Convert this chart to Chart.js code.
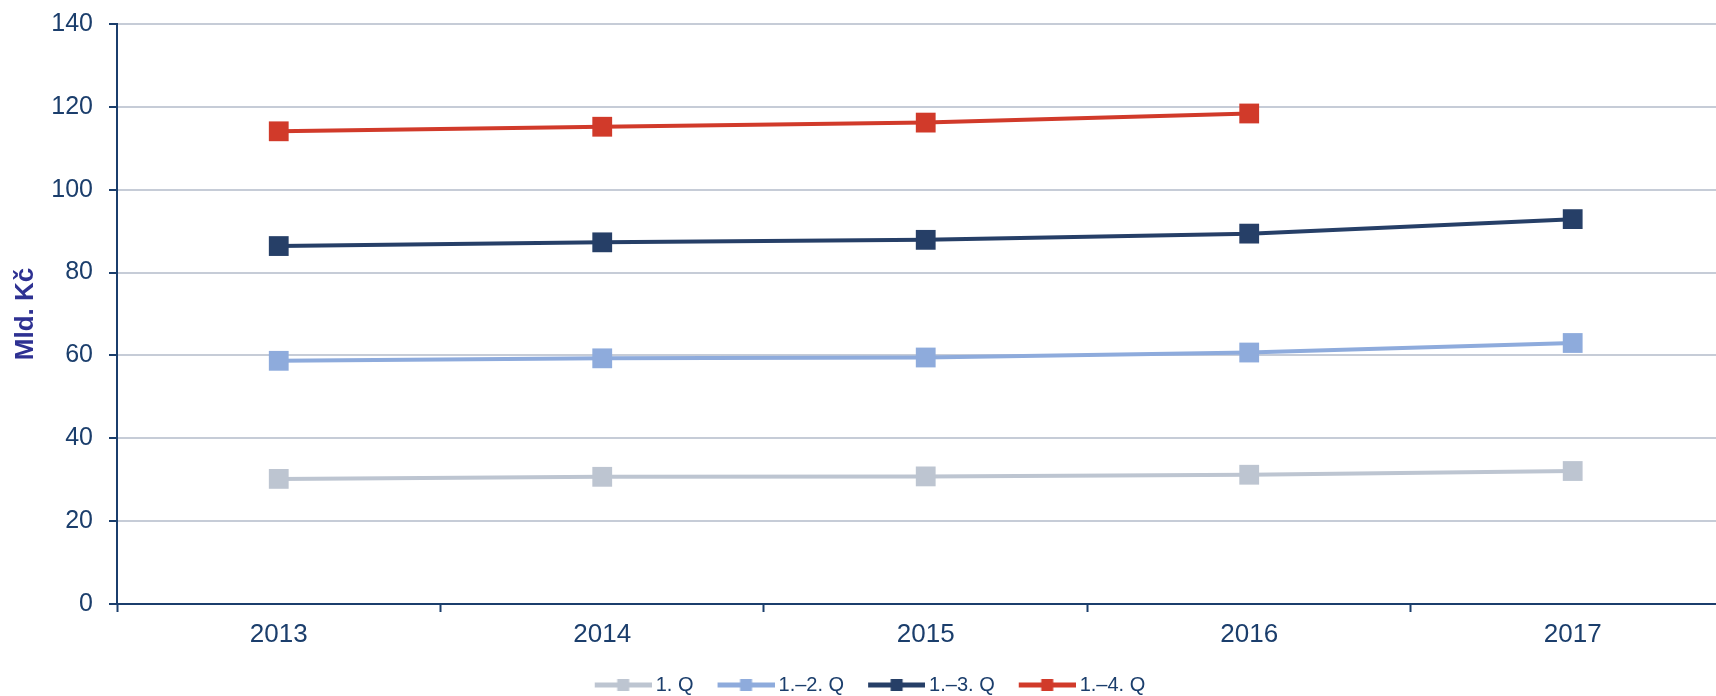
<!DOCTYPE html>
<html>
<head>
<meta charset="utf-8">
<script src="https://cdn.jsdelivr.net/npm/chart.js@4/dist/chart.umd.min.js"></script>
<style>
  html, body { margin: 0; padding: 0; background: #fff; }
  #wrap { width: 1716px; height: 696px; position: relative; }
</style>
</head>
<body>
<div id="wrap"><canvas id="graf"></canvas></div>
<script>
const roky = ["2013", "2014", "2015", "2016", "2017"];
const q1 = [30.2, 30.7, 30.8, 31.2, 32.1];
const q12 = [58.7, 59.3, 59.5, 60.7, 63.0];
const q13 = [86.4, 87.3, 87.9, 89.4, 92.9];
const q14 = [114.1, 115.2, 116.2, 118.4];
const nazvy = ["1. Q", "1.\u20132. Q", "1.\u20133. Q", "1.\u20134. Q"];
const barvy = ["#bdc5d1", "#8eabdc", "#263f67", "#d13a2a"];
const yTicky = [0, 20, 40, 60, 80, 100, 120, 140];

const osaBarva = "#1b3e6c";
const textBarva = "#1b3e6c";
const pismo = "'Liberation Sans', Arial, sans-serif";

// body pro linearni osu x (index roku)
const naBody = (hodnoty) => hodnoty.map((v, i) => ({ x: i, y: v }));

// ikonka do legendy: cara se ctvereckem (vlevo pruhledne misto = mezera mezi polozkami)
const legendaIkona = (barva) => {
  const c = document.createElement("canvas");
  c.width = 87;
  c.height = 12;
  const ctx = c.getContext("2d");
  ctx.fillStyle = barva;
  ctx.fillRect(30, 3.5, 57, 5);
  ctx.fillRect(52.5, 0, 12, 12);
  return c;
};

const serie = [q1, q12, q13, q14];
const datasets = serie.map((hodnoty, i) => ({
  label: nazvy[i],
  data: naBody(hodnoty),
  borderColor: barvy[i],
  backgroundColor: barvy[i],
  borderWidth: 4,
  pointStyle: "rect",
  pointRadius: 14,
  pointHoverRadius: 14,
  pointBorderWidth: 0,
  tension: 0,
}));

const config = {
  type: "line",
  data: { datasets },
  options: {
    responsive: true,
    maintainAspectRatio: false,
    animation: false,
    layout: { autoPadding: false, padding: { top: 24, left: 0, right: 0, bottom: -9 } },
    plugins: {
      tooltip: { enabled: false },
      legend: {
        position: "bottom",
        labels: {
          usePointStyle: true,
          pointStyleWidth: 75,
          color: textBarva,
          font: { family: pismo, size: 20 },
          padding: 0,
          generateLabels: (chart) =>
            chart.data.datasets.map((ds, i) => ({
              text: ds.label,
              pointStyle: legendaIkona(ds.borderColor),
              fillStyle: ds.borderColor,
              strokeStyle: ds.borderColor,
              lineWidth: 0,
              fontColor: textBarva,
              hidden: false,
              datasetIndex: i,
            })),
        },
      },
    },
    scales: {
      x: {
        type: "linear",
        min: -0.5,
        max: 4.443,
        afterBuildTicks: (scale) => {
          const t = [];
          for (let v = -0.5; v <= 4; v += 0.5) t.push({ value: v });
          scale.ticks = t;
        },
        afterFit: (scale) => { scale.height = 71; },
        border: { display: true, color: osaBarva, width: 2 },
        grid: {
          drawOnChartArea: false,
          drawTicks: true,
          tickLength: 8,
          tickWidth: 2,
          tickColor: (ctx) => (Number.isInteger(ctx.tick.value) ? "rgba(0,0,0,0)" : osaBarva),
        },
        ticks: {
          autoSkip: false,
          maxRotation: 0,
          padding: 7,
          color: textBarva,
          font: { family: pismo, size: 26 },
          callback: (v) => (Number.isInteger(v) ? roky[v] : ""),
        },
      },
      y: {
        min: 0,
        max: 140,
        afterBuildTicks: (scale) => {
          scale.ticks = yTicky.map((v) => ({ value: v }));
        },
        afterFit: (scale) => {
          scale.width = 117;
          scale.paddingTop = 0;
          scale.paddingBottom = 0;
        },
        border: { display: true, color: osaBarva, width: 2 },
        grid: {
          color: (ctx) => (ctx.tick && ctx.tick.value === 0 ? "rgba(0,0,0,0)" : "#c6ccd7"),
          lineWidth: 2,
          drawTicks: true,
          tickLength: 8,
          tickColor: osaBarva,
          tickWidth: 2,
        },
        ticks: {
          padding: 16,
          color: textBarva,
          font: { family: pismo, size: 25 },
        },
        title: {
          display: true,
          text: "Mld. Kč",
          color: "#2e3192",
          font: { family: pismo, size: 26, weight: "bold" },
          padding: { top: 10, bottom: 0 },
        },
      },
    },
  },
};

new Chart(document.getElementById("graf"), config);
</script>
</body>
</html>
